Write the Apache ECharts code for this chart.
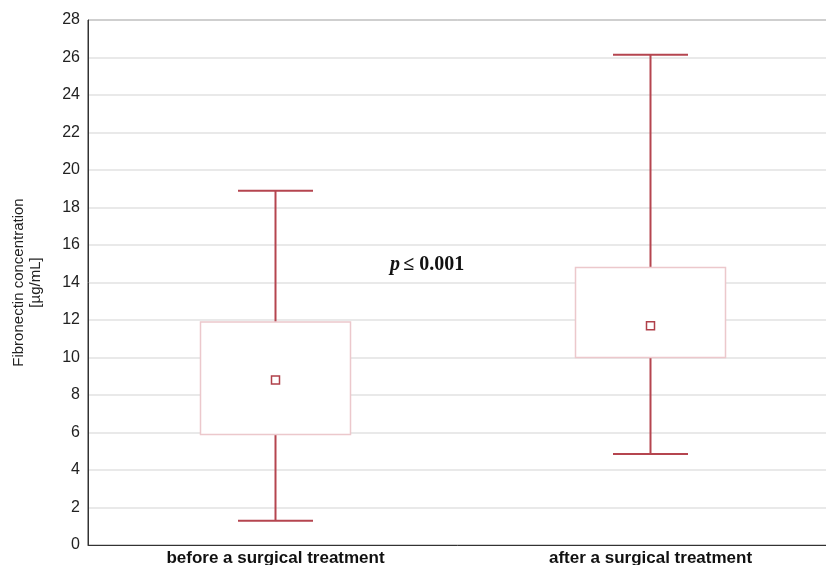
<!DOCTYPE html>
<html>
<head>
<meta charset="utf-8">
<script src="https://cdn.jsdelivr.net/npm/echarts@6/dist/echarts.min.js"></script>
<style>
  html, body { margin: 0; padding: 0; background: #fff; }
  #chart { width: 826px; height: 565px; }
</style>
</head>
<body>
<div id="chart"></div>
<script>
const groups = ['before a surgical treatment', 'after a surgical treatment'];
const whiskerLow = [1.3, 4.85];
const boxLow = [5.9, 10.0];
const boxHigh = [11.9, 14.8];
const whiskerHigh = [18.9, 26.15];
const means = [8.8, 11.7];
const yTicks = [0, 28, 2];

const boxData = groups.map((g, i) => [i, whiskerLow[i], boxLow[i], boxHigh[i], whiskerHigh[i], means[i]]);

const renderBox = (params, api) => {
  const idx = api.value(0);
  const band = api.size([1, 0])[0];
  const x = api.coord([idx, 0])[0];
  const yLo = api.coord([idx, api.value(1)])[1];
  const yQ1 = api.coord([idx, api.value(2)])[1];
  const yQ3 = api.coord([idx, api.value(3)])[1];
  const yHi = api.coord([idx, api.value(4)])[1];
  const yMean = api.coord([idx, api.value(5)])[1];
  const boxW = band * 0.4;
  const capW = band * 0.2;
  const dark = { stroke: '#b5454f', lineWidth: 2 };
  return {
    type: 'group',
    children: [
      { type: 'line', shape: { x1: x, y1: yQ3, x2: x, y2: yHi }, style: dark },
      { type: 'line', shape: { x1: x, y1: yQ1, x2: x, y2: yLo }, style: dark },
      { type: 'line', shape: { x1: x - capW / 2, y1: yHi, x2: x + capW / 2, y2: yHi }, style: dark },
      { type: 'line', shape: { x1: x - capW / 2, y1: yLo, x2: x + capW / 2, y2: yLo }, style: dark },
      { type: 'rect', shape: { x: x - boxW / 2, y: yQ3, width: boxW, height: yQ1 - yQ3 },
        style: { fill: '#fff', stroke: '#ecc8cc', lineWidth: 1.5 } },
      { type: 'rect', shape: { x: x - 4, y: yMean - 4, width: 8, height: 8 },
        style: { fill: '#fff', stroke: '#b0404a', lineWidth: 1.5 } }
    ]
  };
};

const chart = echarts.init(document.getElementById('chart'));
chart.setOption({
  animation: false,
  grid: {
    left: 88, top: 20, bottom: 20, right: -12,
    outerBoundsMode: 'none', containLabel: false,
    show: true, borderColor: '#333', borderWidth: 1
  },
  xAxis: {
    type: 'category',
    data: groups,
    axisLine: { lineStyle: { color: '#333' } },
    axisTick: { inside: true, alignWithLabel: true, length: 4, lineStyle: { color: '#333' } },
    axisLabel: { color: '#111', fontWeight: 'bold', fontSize: 17, fontFamily: 'Liberation Sans', margin: 5 },
    splitLine: { show: false }
  },
  yAxis: {
    type: 'value',
    min: yTicks[0],
    max: yTicks[1],
    interval: yTicks[2],
    name: 'Fibronectin concentration\n[µg/mL]',
    nameLocation: 'middle',
    nameGap: 44,
    nameTextStyle: { color: '#222', fontSize: 15, fontFamily: 'Liberation Sans', lineHeight: 17 },
    axisLine: { show: true, lineStyle: { color: '#333' } },
    axisTick: { show: false },
    axisLabel: { color: '#222', fontSize: 16, fontFamily: 'Liberation Sans', margin: 8 },
    splitLine: { lineStyle: { color: '#e2e2e2', width: 1.5 } }
  },
  graphic: [{
    type: 'text',
    left: 390,
    top: 255,
    style: {
      text: '{i|p} {b|≤ 0.001}',
      rich: {
        i: { fontFamily: 'Liberation Serif', fontStyle: 'italic', fontWeight: 'bold', fontSize: 20, fill: '#111' },
        b: { fontFamily: 'Liberation Serif', fontWeight: 'bold', fontSize: 20, fill: '#111' }
      }
    }
  }],
  series: [{
    type: 'custom',
    renderItem: renderBox,
    encode: { x: 0, y: [1, 2, 3, 4, 5] },
    data: boxData
  }]
});
</script>
</body>
</html>
